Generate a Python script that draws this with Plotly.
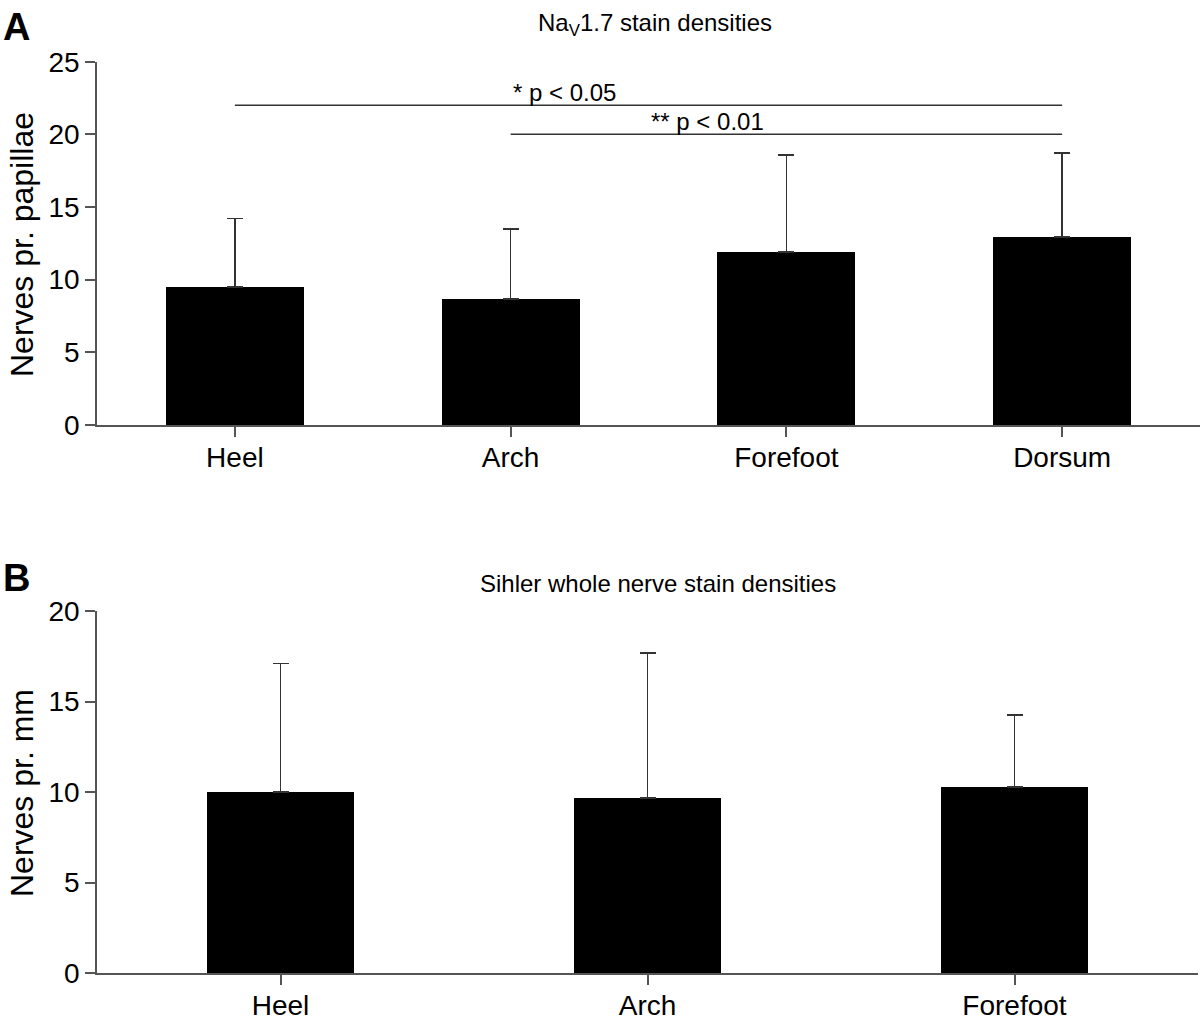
import plotly.graph_objects as go

# Panel A data
cats_a = ["Heel", "Arch", "Forefoot", "Dorsum"]
mean_a = [9.5, 8.68, 11.91, 12.95]
sd_a = [4.7, 4.82, 6.68, 5.78]
title_a = "Na<sub>V</sub>1.7 stain densities"
ytitle_a = "Nerves pr. papillae"
yticks_a = [0, 5, 10, 15, 20, 25]

# Panel B data
cats_b = ["Heel", "Arch", "Forefoot"]
mean_b = [10.0, 9.67, 10.28]
sd_b = [7.1, 8.0, 3.97]
title_b = "Sihler whole nerve stain densities"
ytitle_b = "Nerves pr. mm"
yticks_b = [0, 5, 10, 15, 20]

# significance brackets
sig_from = ["Heel", "Arch"]
sig_to = ["Dorsum", "Dorsum"]
sig_y = [22, 20]
sig_text = ["* p < 0.05", "** p < 0.01"]
sig_text_x = [1, 1.5]

FONT = "Liberation Sans, Arial, Helvetica, sans-serif"
W, H = 1200, 1022
AXC = "#555555"

def px_x(p):
    return p / W

def px_y(p):
    return (H - p) / H

fig = go.Figure()

fig.add_trace(go.Bar(
    x=list(range(len(cats_a))), y=mean_a, width=0.5,
    marker=dict(color="black", line=dict(width=0)),
    error_y=dict(type="data", symmetric=False, array=sd_a,
                 arrayminus=[0] * len(sd_a), color="#333333",
                 thickness=1.6, width=8),
    xaxis="x", yaxis="y", showlegend=False, hoverinfo="skip",
))
fig.add_trace(go.Bar(
    x=list(range(len(cats_b))), y=mean_b, width=0.4,
    marker=dict(color="black", line=dict(width=0)),
    error_y=dict(type="data", symmetric=False, array=sd_b,
                 arrayminus=[0] * len(sd_b), color="#333333",
                 thickness=1.6, width=8),
    xaxis="x2", yaxis="y2", showlegend=False, hoverinfo="skip",
))

axis_common = dict(
    showline=True, linecolor=AXC, linewidth=1.5,
    ticks="outside", ticklen=10, tickcolor=AXC, tickwidth=1.5,
    showgrid=False, zeroline=False, automargin=False,
    tickfont=dict(family=FONT, size=28, color="black"),
)

fig.update_layout(
    template="none",
    width=W, height=H, autosize=False,
    margin=dict(l=0, r=0, t=0, b=0, pad=0),
    paper_bgcolor="white", plot_bgcolor="white",
    bargap=0,
    xaxis=dict(domain=[px_x(97), 1.0], range=[-0.5, 3.5],
               tickvals=list(range(len(cats_a))), ticktext=cats_a,
               anchor="y", ticklabelstandoff=-3, **axis_common),
    yaxis=dict(domain=[px_y(425), px_y(61.7)], range=[0, 25],
               tickvals=yticks_a, anchor="x", ticklabelstandoff=0,
               **axis_common),
    xaxis2=dict(domain=[px_x(97), px_x(1198)], range=[-0.5, 2.5],
                tickvals=list(range(len(cats_b))), ticktext=cats_b,
                anchor="y2", ticklabelstandoff=-3, **axis_common),
    yaxis2=dict(domain=[px_y(973), px_y(611)], range=[0, 20],
                tickvals=yticks_b, anchor="x2", ticklabelstandoff=0,
                **axis_common),
)

ann = []
ann.append(dict(text="<b>A</b>", x=px_x(1), y=px_y(4), xref="paper", yref="paper",
                xanchor="left", yanchor="top", showarrow=False,
                font=dict(family=FONT, size=38, color="black")))
ann.append(dict(text="<b>B</b>", x=px_x(1), y=px_y(555), xref="paper", yref="paper",
                xanchor="left", yanchor="top", showarrow=False,
                font=dict(family=FONT, size=38, color="black")))
ann.append(dict(text=title_a, x=px_x(655), y=px_y(25), xref="paper", yref="paper",
                xanchor="center", yanchor="middle", showarrow=False,
                font=dict(family=FONT, size=24, color="black")))
ann.append(dict(text=title_b, x=px_x(658), y=px_y(583), xref="paper", yref="paper",
                xanchor="center", yanchor="middle", showarrow=False,
                font=dict(family=FONT, size=24, color="black")))
ann.append(dict(text=ytitle_a, x=px_x(22), y=px_y(245), xref="paper", yref="paper",
                xanchor="center", yanchor="middle", textangle=-90, showarrow=False,
                font=dict(family=FONT, size=32, color="black")))
ann.append(dict(text=ytitle_b, x=px_x(22), y=px_y(793), xref="paper", yref="paper",
                xanchor="center", yanchor="middle", textangle=-90, showarrow=False,
                font=dict(family=FONT, size=32, color="black")))

shapes = []
for f, t, yv, txt, tx in zip(sig_from, sig_to, sig_y, sig_text, sig_text_x):
    shapes.append(dict(type="line", xref="x", yref="y",
                       x0=cats_a.index(f), x1=cats_a.index(t), y0=yv, y1=yv,
                       line=dict(color="#333333", width=1.5)))
    ann.append(dict(text=txt, x=tx, y=yv, xref="x", yref="y",
                    xanchor="left", yanchor="bottom", showarrow=False,
                    yshift=-3,
                    font=dict(family=FONT, size=24, color="black")))

fig.update_layout(annotations=ann, shapes=shapes)

fig.write_html("out.html", config={"displayModeBar": False},
               post_script="document.body.style.margin='0';")
